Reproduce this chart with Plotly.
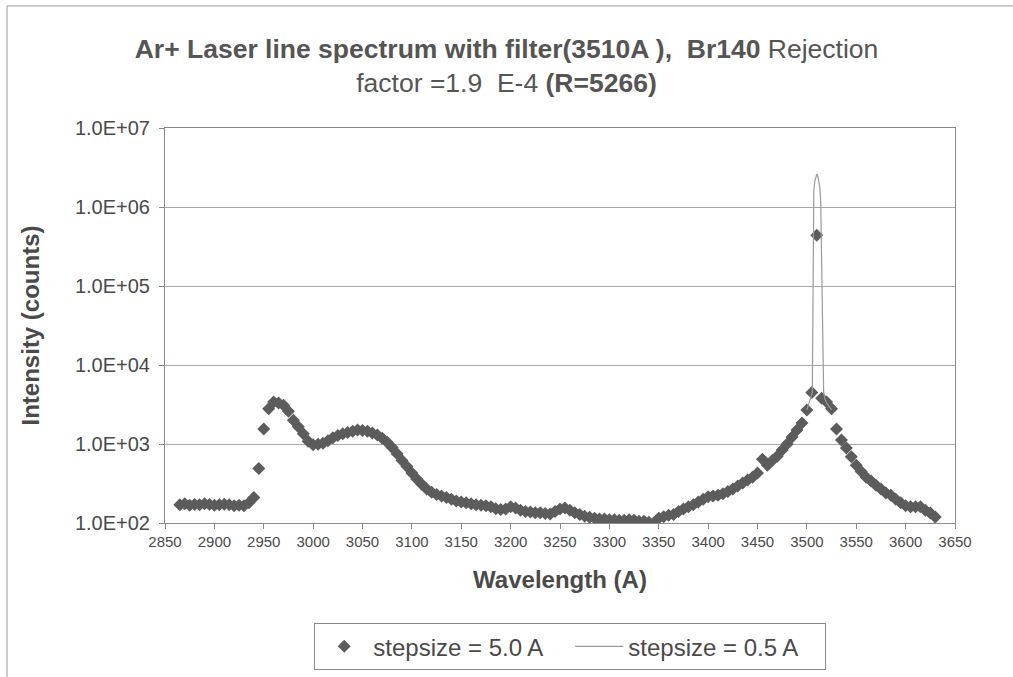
import plotly.graph_objects as go

# Diamond series: stepsize = 5.0 A (wavelength in Angstrom, intensity in counts)
wl_5A = [2865 + 5 * i for i in range(154)]
counts_5A = [
    # 2865-2930
    170, 175, 168, 172, 170, 175, 172, 168, 170, 173, 170, 165, 168, 165,
    # 2935-2995
    180, 210, 490, 1550, 2800, 3400, 3300, 3100, 2600, 2000, 1650, 1350, 1080,
    # 3000-3060
    980, 990, 1020, 1100, 1200, 1280, 1350, 1400, 1450, 1500, 1480, 1450, 1380,
    # 3065-3125
    1300, 1180, 1050, 900, 750, 620, 520, 430, 360, 310, 270, 245, 230,
    # 3130-3190
    220, 210, 200, 190, 185, 180, 175, 170, 168, 165, 160, 152, 148,
    # 3195-3255
    150, 160, 155, 145, 140, 138, 135, 135, 132, 130, 140, 150, 155,
    # 3260-3320
    145, 135, 128, 122, 118, 115, 112, 112, 110, 110, 108, 108, 110,
    # 3325-3385
    108, 105, 105, 102, 100, 115, 120, 125, 128, 140, 150, 160, 170,
    # 3390-3450
    185, 200, 215, 220, 225, 235, 250, 270, 295, 320, 350, 380, 430,
    # 3455-3515
    640, 540, 620, 700, 840, 1000, 1230, 1500, 1840, 2700, 4500, 440000, 3800,
    # 3520-3580
    3400, 2800, 1550, 1120, 890, 690, 540, 450, 380, 340, 300, 270, 240,
    # 3585-3630
    225, 200, 180, 165, 160, 160, 160, 145, 134, 119,
]

# Line series: stepsize = 0.5 A (visible around the laser line)
wl_05A = [3500, 3502, 3504, 3505.5, 3506, 3506.5, 3507, 3508, 3509, 3510,
          3511, 3512, 3513, 3514, 3514.5, 3515, 3515.5, 3516, 3516.5, 3517,
          3518, 3520, 3525]
counts_05A = [2700, 3300, 4000, 4500, 3.0e4, 6.0e5, 1.6e6, 2.1e6, 2.4e6, 2.6e6,
              2.5e6, 2.2e6, 1.8e6, 1.2e6, 4.0e5, 1.6e5, 1.4e5, 6.0e4, 1.5e4, 4500,
              3800, 3300, 2700]

y_tickvals = [1e2, 1e3, 1e4, 1e5, 1e6, 1e7]
y_ticktext = ["1.0E+02", "1.0E+03", "1.0E+04", "1.0E+05", "1.0E+06", "1.0E+07"]
x_tickvals = list(range(2850, 3651, 50))

txt = "#4a4a4a"
font_family = "Liberation Sans, Arial, sans-serif"

fig = go.Figure()
fig.add_trace(go.Scatter(
    x=wl_5A, y=counts_5A, mode="markers", name="stepsize = 5.0 A",
    marker=dict(symbol="diamond", size=10, color="#5c5c5c",
                line=dict(width=0)),
))
fig.add_trace(go.Scatter(
    x=wl_05A, y=counts_05A, mode="lines", name="stepsize = 0.5 A",
    line=dict(color="#9a9a9a", width=1.2),
))

fig.update_layout(
    width=1013, height=677,
    paper_bgcolor="white", plot_bgcolor="white",
    margin=dict(l=165, r=58, t=128, b=154, autoexpand=False),
    font=dict(family=font_family, color=txt),
    title=dict(
        text="<b>Ar+ Laser line spectrum with filter(3510A ),&nbsp; Br140</b> Rejection"
             "<br>factor =1.9&nbsp; E-4 <b>(R=5266)</b>",
        x=0.5, xref="container", xanchor="center",
        y=0.915, yref="container", yanchor="top",
        font=dict(size=26.5, color="#555555", family=font_family),
        automargin=False,
    ),
    xaxis=dict(
        range=[2850, 3650], tickvals=x_tickvals, automargin=False,
        showgrid=False, zeroline=False,
        showline=True, linecolor="#8a8a8a", linewidth=1, mirror=True,
        ticks="outside", ticklen=5, tickcolor="#8a8a8a",
        tickfont=dict(size=15, color=txt),
        title=dict(text="<b>Wavelength (A)</b>", font=dict(size=24, color=txt),
                   standoff=22),
    ),
    yaxis=dict(
        type="log", range=[2, 7], tickvals=y_tickvals, ticktext=y_ticktext,
        automargin=False,
        showgrid=True, gridcolor="#a8a8a8", gridwidth=1, zeroline=False,
        showline=True, linecolor="#8a8a8a", linewidth=1, mirror=True,
        ticks="outside", ticklen=5, tickcolor="#8a8a8a",
        ticklabelstandoff=5,
        tickfont=dict(size=20, color=txt),
        title=dict(text="<b>Intensity (counts)</b>", font=dict(size=24, color=txt),
                   standoff=28),
    ),
    legend=dict(
        orientation="h", x=0.513, xanchor="center",
        yref="container", y=0.01, yanchor="bottom",
        bordercolor="#8a8a8a", borderwidth=1, bgcolor="white",
        font=dict(size=24, color=txt), entrywidth=192, itemwidth=48,
    ),
    shapes=[dict(type="rect", xref="paper", yref="paper",
                 x0=-0.2, x1=1.08, y0=-0.45, y1=1.309,
                 line=dict(color="#9a9a9a", width=1), layer="below")],
)

fig.write_html("out.html", config={"displayModeBar": False},
               post_script="document.body.style.margin='0';")
